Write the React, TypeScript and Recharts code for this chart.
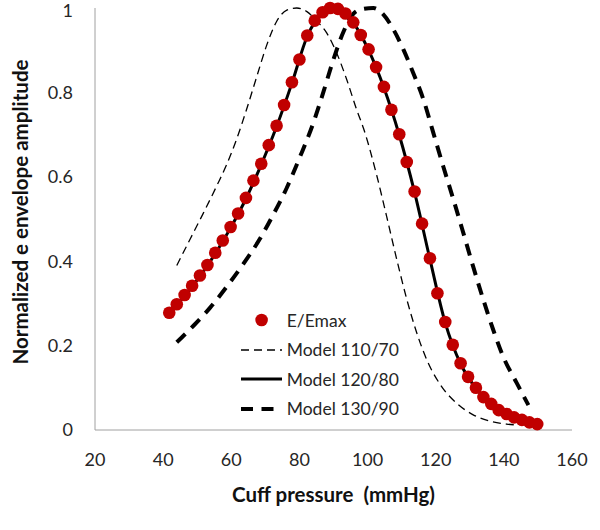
import React from "react";
import { ComposedChart, Line, Scatter, XAxis, YAxis, Legend, Label } from "recharts";

// measured oscillometric envelope, normalised to its maximum
const emaxPressure = [
  41.8, 44.0, 46.3, 48.5, 50.8, 53.0, 55.3, 57.5, 59.8, 62.0, 64.3, 66.5, 68.8,
  71.0, 73.3, 75.5, 77.8, 80.0, 82.3, 84.5, 86.8, 89.0, 91.3, 93.5, 95.8, 98.0,
  100.3, 102.5, 104.8, 107.0, 109.3, 111.5, 113.8, 116.0, 118.3, 120.5, 122.8,
  125.0, 127.3, 129.5, 131.8, 134.0, 136.3, 138.5, 140.8, 143.0, 145.3, 147.5,
  149.8,
];
const emaxAmplitude = [
  0.278, 0.298, 0.32, 0.342, 0.366, 0.391, 0.42, 0.449, 0.481, 0.513, 0.55,
  0.591, 0.631, 0.675, 0.721, 0.77, 0.824, 0.878, 0.935, 0.97, 0.99, 1.0, 0.998,
  0.987, 0.966, 0.936, 0.902, 0.86, 0.813, 0.759, 0.701, 0.635, 0.565, 0.489,
  0.407, 0.324, 0.256, 0.202, 0.158, 0.126, 0.1, 0.078, 0.062, 0.047, 0.038,
  0.03, 0.024, 0.018, 0.014,
];

// model curves
const model110Pressure = [
  44.0, 47.9, 51.8, 55.7, 58.7, 61.6, 64.5, 67.5, 70.4, 73.3, 76.3, 79.2, 82.1,
  85.1, 88.0, 90.9, 93.9, 96.8, 98.8, 102.7, 105.6, 108.6, 111.5, 114.4, 117.4,
  121.3, 126.2, 131.0, 135.9, 140.8, 143.7,
];
const model110Amplitude = [
  0.39, 0.452, 0.514, 0.578, 0.63, 0.69, 0.76, 0.838, 0.912, 0.968, 0.995,
  1.0, 0.992, 0.969, 0.941, 0.894, 0.83, 0.759, 0.715, 0.603, 0.506, 0.403,
  0.31, 0.231, 0.166, 0.108, 0.063, 0.036, 0.021, 0.014, 0.012,
];

const model120Pressure = [
  41.8, 46.3, 50.8, 55.3, 59.8, 64.3, 68.8, 73.3, 77.8, 82.3, 86.8, 89.0, 91.3,
  95.8, 100.3, 104.8, 109.3, 113.8, 118.3, 122.8, 127.3, 131.8, 136.3, 140.8,
  145.3, 149.8,
];
const model120Amplitude = [
  0.276, 0.318, 0.364, 0.418, 0.479, 0.548, 0.629, 0.719, 0.822, 0.933, 0.989,
  1.0, 0.997, 0.965, 0.9, 0.811, 0.699, 0.563, 0.405, 0.254, 0.157, 0.099,
  0.061, 0.037, 0.024, 0.014,
];

const model130Pressure = [
  44.0, 48.9, 53.8, 58.7, 63.5, 68.4, 72.3, 76.3, 80.2, 84.1, 87.0, 89.9, 92.9,
  95.8, 97.8, 101.7, 104.6, 107.6, 110.5, 113.4, 116.4, 119.3, 122.2, 125.2,
  128.1, 131.0, 134.0, 136.9, 139.8, 143.8, 147.2,
];
const model130Amplitude = [
  0.208, 0.247, 0.29, 0.34, 0.393, 0.453, 0.51, 0.574, 0.648, 0.728, 0.8,
  0.876, 0.943, 0.986, 0.996, 1.0, 0.985, 0.949, 0.902, 0.846, 0.783, 0.704,
  0.625, 0.546, 0.467, 0.387, 0.308, 0.237, 0.174, 0.111, 0.059,
];

const xTicks = [20, 40, 60, 80, 100, 120, 140, 160];
const yTicks = [0, 0.2, 0.4, 0.6, 0.8, 1];

const toPoints = (xs: number[], ys: number[]) =>
  xs.map((x, i) => ({ x, y: ys[i] }));

const DOT_RED = "#c00000";
const FONT = "Lato, 'Open Sans', sans-serif";
const axisTick = { fill: "#262626", fontSize: 18, fontFamily: FONT };

const legendItems = [
  { label: "E/Emax", kind: "dot" },
  { label: "Model 110/70", kind: "line", width: 1.3, dash: "8 5", len: 41 },
  { label: "Model 120/80", kind: "line", width: 3, dash: undefined, len: 41 },
  { label: "Model 130/90", kind: "line", width: 4, dash: "12 8.5", len: 33 },
];

function renderLegend() {
  return (
    <div style={{ fontFamily: FONT, fontSize: 17.5, color: "#262626" }}>
      {legendItems.map((item) => (
        <div
          key={item.label}
          style={{ display: "flex", alignItems: "center", height: 29.5 }}
        >
          <svg width={46} height={16} style={{ display: "block" }}>
            {item.kind === "dot" ? (
              <circle cx={20.6} cy={8} r={6.3} fill={DOT_RED} />
            ) : (
              <line
                x1={0}
                x2={item.len}
                y1={8}
                y2={8}
                stroke="#000"
                strokeWidth={item.width}
                strokeDasharray={item.dash}
              />
            )}
          </svg>
          <span>{item.label}</span>
        </div>
      ))}
    </div>
  );
}

const renderYTitle = () => (
  <text
    x={20}
    y={212}
    transform="rotate(-90 20 212)"
    textAnchor="middle"
    dominantBaseline="central"
    fontFamily={FONT}
    fontWeight={700}
    fontSize={20.5}
    fill="#111"
  >
    Normalized e envelope amplitude
  </text>
);

const renderXTitle = (props: any) => {
  const vb = props.viewBox || { x: 95, width: 477, y: 430 };
  return (
    <text
      x={vb.x + vb.width / 2}
      y={vb.y + 72}
      textAnchor="middle"
      fontFamily={FONT}
      fontWeight={700}
      fontSize={20.5}
      fill="#111"
      xmlSpace="preserve"
      style={{ whiteSpace: "pre" }}
    >
      Cuff pressure  (mmHg)
    </text>
  );
};

export default function App() {
  return (
    <div style={{ position: "absolute", left: 0, top: 0, width: 600, height: 530, background: "#fff" }}>
      <ComposedChart
        width={600}
        height={530}
        margin={{ top: 8, right: 28, bottom: 10, left: 0 }}
      >
        <XAxis
          type="number"
          dataKey="x"
          domain={[20, 160]}
          ticks={xTicks}
          allowDataOverflow
          tick={axisTick}
          tickLine={false}
          tickMargin={17}
          axisLine={{ stroke: "#a0a0a0" }}
          height={90}
        >
          <Label content={renderXTitle} />
        </XAxis>
        <YAxis
          type="number"
          dataKey="y"
          domain={[0, 1]}
          ticks={yTicks}
          tick={axisTick}
          tickLine={false}
          tickMargin={16}
          axisLine={{ stroke: "#a0a0a0" }}
          width={95}
        >
          <Label content={renderYTitle} />
        </YAxis>
        <Legend
          layout="vertical"
          align="center"
          verticalAlign="middle"
          content={renderLegend}
          wrapperStyle={{ left: 240.7, top: 305.3, width: 180 }}
        />
        <Line
          data={toPoints(model110Pressure, model110Amplitude)}
          dataKey="y"
          name="Model 110/70"
          type="monotone"
          stroke="#000"
          strokeWidth={1.3}
          strokeDasharray="8 5"
          dot={false}
          activeDot={false}
          isAnimationActive={false}
        />
        <Line
          data={toPoints(model130Pressure, model130Amplitude)}
          dataKey="y"
          name="Model 130/90"
          type="monotone"
          stroke="#000"
          strokeWidth={4}
          strokeDasharray="12 8.5"
          dot={false}
          activeDot={false}
          isAnimationActive={false}
        />
        <Line
          data={toPoints(model120Pressure, model120Amplitude)}
          dataKey="y"
          name="Model 120/80"
          type="monotone"
          stroke="#000"
          strokeWidth={3}
          dot={false}
          activeDot={false}
          isAnimationActive={false}
        />
        <Scatter
          data={toPoints(emaxPressure, emaxAmplitude)}
          dataKey="y"
          name="E/Emax"
          fill={DOT_RED}
          shape={(p: any) => <circle cx={p.cx} cy={p.cy} r={6.3} fill={DOT_RED} />}
          isAnimationActive={false}
        />
      </ComposedChart>
    </div>
  );
}
